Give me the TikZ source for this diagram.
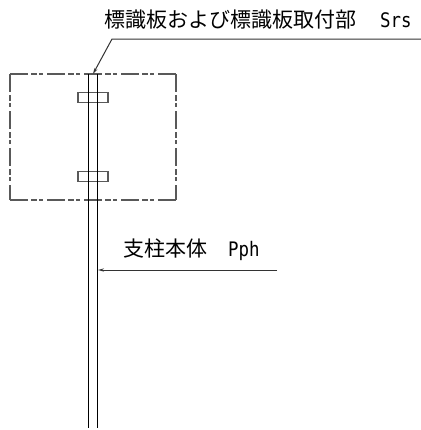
\documentclass[tikz,border=0pt]{standalone}
\usepackage{fontspec}
\newfontfamily\jp{Noto Sans CJK JP}
\newfontfamily\lat[FakeStretch=0.87]{DejaVu Sans Mono}
\usetikzlibrary{arrows.meta}
\tikzset{
  x=1bp,y=-1bp,
  thin line/.style={line width=1.1bp,black},
  outline/.style={line width=1.1bp,draw=black!65,dash pattern=on 18bp off 3bp on 6bp off 2bp on 4bp off 4bp},
  bolt/.style={draw=black!65,line width=1.1bp,minimum width=30bp,minimum height=9.5bp,inner sep=0pt,outer sep=0pt},
  leader/.style={line width=1bp,black!80,-{Stealth[length=6bp,width=3.2bp]}},
  lbl/.style={anchor=west,inner sep=0pt,font=\fontsize{21bp}{24bp}\selectfont\jp,text=black},
}
\newcommand{\latxt}[1]{{\lat\fontsize{20bp}{24bp}\selectfont #1}}
\begin{document}
\begin{tikzpicture}
\useasboundingbox (0,0) rectangle (421,430);
\fill[white] (0,0) rectangle (421,430);
% panel outline
\coordinate (pa) at (10,74);
\coordinate (pb) at (176,74);
\coordinate (pc) at (176,200);
\coordinate (pd) at (10,200);
\draw[outline] (pa) -- (pb);
\draw[outline] (pb) -- (pc);
\draw[outline] (pa) -- (pd);
\draw[outline] (pd) -- (pc);
% bolts
\node[bolt] (b1) at (93,97.5) {};
\node[bolt] (b2) at (93,176.5) {};
% pole
\coordinate (p1t) at (88.5,74);
\coordinate (p1b) at (88.5,428);
\coordinate (p2t) at (97.5,74);
\coordinate (p2b) at (97.5,428);
\draw[thin line] (p1t) -- (p1b);
\draw[thin line] (p2t) -- (p2b);
% labels
\node[lbl] (t1) at (104,20) {標識板および標識板取付部\hspace{24bp}\latxt{Srs}};
\node[lbl] (t2) at (123,250) {支柱本体\hspace{21bp}\latxt{Pph}};
% leaders
\coordinate (l1e) at (421,39);
\coordinate (l1k) at (112,39);
\coordinate (l1t) at (93,74);
\coordinate (l2e) at (277,270);
\coordinate (l2t) at (98,270);
\draw[leader] (l1e) -- (l1k) -- (l1t);
\draw[leader] (l2e) -- (l2t);
\end{tikzpicture}
\end{document}
